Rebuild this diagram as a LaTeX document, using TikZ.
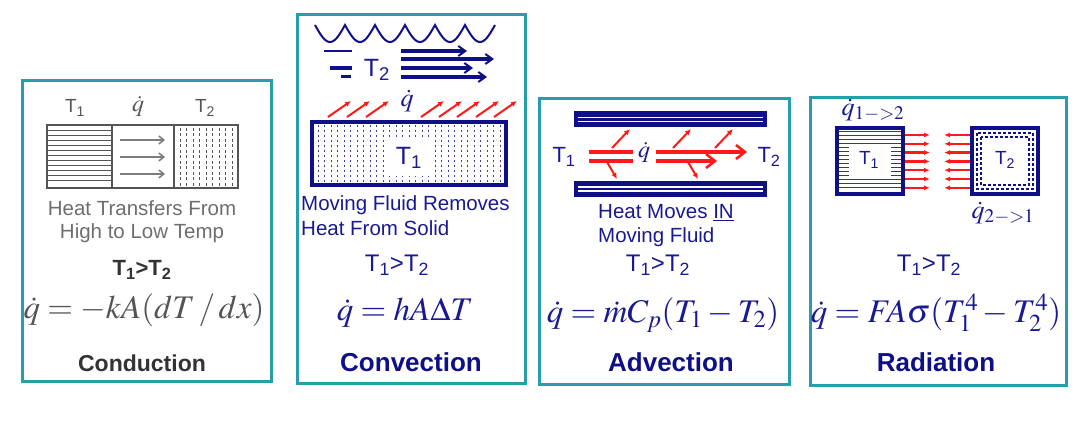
\documentclass[tikz,border=0pt]{standalone}
\usepackage{mathptmx}
\usepackage[no-math]{fontspec}
\setmainfont{Liberation Sans}
\usetikzlibrary{arrows.meta}

\definecolor{frameteal}{RGB}{40,158,170}
\definecolor{navy}{RGB}{15,15,135}
\definecolor{navytxt}{RGB}{25,25,145}
\definecolor{hotred}{RGB}{255,25,25}
\definecolor{condgray}{RGB}{85,85,85}
\definecolor{arrowgray}{RGB}{125,125,125}
\newcommand{\fsz}[1]{\fontsize{#1}{#1}\selectfont}

\begin{document}
\begin{tikzpicture}[x=1pt, y=-1pt,
    panel/.style={draw=frameteal, line width=3pt},
    txt/.style={inner sep=0pt, font=\fsz{20.5}},
    cmp/.style={inner sep=0pt, font=\fsz{24}},
    eqn/.style={inner sep=0pt, font=\fsz{33}},
    ttl/.style={inner sep=0pt, font=\bfseries\fsz{26}},
    redarr/.style={hotred, line width=2pt, -{Latex[length=6pt,width=5.5pt]}},
    bigred/.style={hotred, line width=4pt, -{Straight Barb[length=9pt,width=14pt,line width=2.5pt]}},
    bluearr/.style={navy, line width=3.2pt, -{Straight Barb[length=7pt,width=10pt,line width=2pt]}},
    radarr/.style={hotred, line width=2.5pt, -{Latex[length=6pt,width=5pt]}}]

  \useasboundingbox (0,0) rectangle (1080,441);

  % Conduction
  \draw[panel] (22,81) rectangle (271,381);
  \node[text=condgray, font=\fsz{19}] (condT1) at (75,108) {T\textsubscript{1}};
  \node[text=condgray, font=\fsz{24}] (condQ) at (138,106) {$\dot{q}$};
  \node[text=condgray, font=\fsz{19}] (condT2) at (205,108) {T\textsubscript{2}};
  \foreach \y in {130,135,...,184}
    \draw[condgray, line width=0.9pt] (47,\y) -- (112,\y);
  \foreach \x in {180,186.5,...,235}
    \draw[condgray, line width=1pt, dash pattern=on 3pt off 2.5pt] (\x,128) -- (\x,186);
  \foreach \y in {140,157,174}
    \draw[arrowgray, line width=1.5pt, -{Straight Barb[length=5pt,width=8pt]}] (120,\y) -- (165,\y);
  \draw[condgray, line width=2.5pt] (47,125) rectangle (238,188);
  \draw[condgray, line width=2.5pt] (112,125) -- (112,188);
  \draw[condgray, line width=2.5pt] (174,125) -- (174,188);
  \node[txt, text=condgray!85] (condNote1) at (142,208) {Heat Transfers From};
  \node[txt, text=condgray!85] (condNote2) at (142,233) {High to Low Temp};
  \node[inner sep=0pt, font=\bfseries\fsz{22}, text=condgray!120] (condCmp) at (142,270) {T\textsubscript{1}>T\textsubscript{2}};
  \node[eqn, text=condgray] (condEq) at (144,310) {$\dot{q} = -kA(dT\,/\,dx)$};
  \node[inner sep=0pt, font=\bfseries\fsz{23}, text=condgray!120] (condName) at (142,363) {Conduction};

  % Convection
  \draw[panel] (297,15) rectangle (525,383);
  \draw[navy, line width=2pt] plot[domain=315:495, samples=181] (\x, {25+17*abs(sin(6*(\x-315)))});
  \draw[navy, line width=2.7pt] (324,51) -- (352,51);
  \draw[navy, line width=4pt] (330,68) -- (352,68);
  \draw[navy, line width=3pt] (341,77) -- (351,77);
  \node[text=navytxt, font=\fsz{25}, inner sep=0pt] (convT2) at (377,70) {T\textsubscript{2}};
  \draw[bluearr] (401,51) -- (467,51);
  \draw[bluearr] (401,59) -- (494,59);
  \draw[bluearr] (401,68) -- (473,68);
  \draw[bluearr] (401,77) -- (487,77);
  \node[text=navytxt, font=\fsz{26}, inner sep=0pt] (convQ) at (407,101) {$\dot{q}$};
  \foreach \x in {328,347,366,421,439,457,476,494}
    \draw[redarr] (\x,117) -- ++(23,-16);
  \foreach \x in {318,324.5,...,502}
    \draw[navy!80, line width=1pt, dash pattern=on 2.5pt off 2.5pt] (\x,125) -- (\x,183);
  \fill[white] (384,137) rectangle (434,176);
  \draw[navy, line width=4.5pt] (312,122) rectangle (506,185);
  \node[text=navytxt, font=\fsz{25}, inner sep=0pt] (convT1) at (409,158) {T\textsubscript{1}};
  \node[txt, text=navytxt, anchor=west] (convNote1) at (301,205) {Moving Fluid Removes};
  \node[txt, text=navytxt, anchor=west] (convNote2) at (301,228) {Heat From Solid};
  \node[cmp, text=navytxt] (convCmp) at (397,265) {T\textsubscript{1}>T\textsubscript{2}};
  \node[eqn, text=navytxt] (convEq) at (405,313) {$\dot{q} = hA\Delta T$};
  \node[ttl, text=navy] (convName) at (411,362) {Convection};

  % Advection
  \draw[panel] (539,99) rectangle (789,384);
  \fill[navy] (574,111) rectangle (767,127);
  \draw[white, line width=1.3pt] (578,117.5) -- (763,117.5) (578,121.5) -- (763,121.5);
  \fill[navy] (574,181) rectangle (767,197);
  \draw[white, line width=1.3pt] (578,187) -- (763,187) (578,191) -- (763,191);
  \node[text=navytxt, font=\fsz{22}, inner sep=0pt] (advT1) at (564,157) {T\textsubscript{1}};
  \node[text=navytxt, font=\fsz{22}, inner sep=0pt] (advT2) at (769,157) {T\textsubscript{2}};
  \draw[hotred, line width=4pt] (589,152) -- (633,152) (589,161) -- (633,161);
  \draw[bigred] (656,152) -- (747,152);
  \draw[bigred] (656,161) -- (717,161);
  \draw[redarr] (612,148) -- (630,129);
  \draw[redarr] (673,148) -- (691,129);
  \draw[redarr] (715,148) -- (733,129);
  \draw[redarr] (607,162) -- (617,179);
  \draw[redarr] (688,162) -- (698,179);
  \node[text=navytxt, font=\fsz{24}, inner sep=0pt] (advQ) at (644,152) {$\dot{q}$};
  \node[txt, text=navytxt, anchor=west] (advNote1) at (598,213) {Heat Moves \underline{IN}};
  \node[txt, text=navytxt, anchor=west] (advNote2) at (598,237) {Moving Fluid};
  \node[cmp, text=navytxt] (advCmp) at (658,265) {T\textsubscript{1}>T\textsubscript{2}};
  \node[eqn, text=navytxt] (advEq) at (663,315) {$\dot{q} = \dot{m}C_p(T_1 - T_2)$};
  \node[ttl, text=navy] (advName) at (671,362) {Advection};

  % Radiation
  \draw[panel] (810,98) rectangle (1066,385);
  \node[text=navytxt, font=\fsz{26}, inner sep=0pt] (radQa) at (873,110) {$\dot{q}_{1->2}$};
  \foreach \y in {132,136,...,191}
    \draw[navy!85, line width=1pt] (837,\y) -- (903,\y);
  \fill[white] (849,145) rectangle (891,177);
  \draw[navy, line width=4.5pt] (837,128) rectangle (903,194);
  \node[text=navytxt, font=\fsz{19}, inner sep=0pt] (radT1) at (869,160) {T\textsubscript{1}};
  \foreach \i in {0,...,6} {
    \draw[radarr] (905,{135+8.8*\i}) -- (930,{135+8.8*\i});
    \draw[radarr] (970,{135+8.8*\i}) -- (944,{135+8.8*\i});
  }
  \draw[navy, line width=1.3pt, dash pattern=on 3pt off 2pt] (977,133) rectangle (1033,189);
  \draw[navy, line width=1.3pt, dash pattern=on 3pt off 2pt] (981,137) rectangle (1029,185);
  \draw[navy, line width=4.5pt] (972,128) rectangle (1038,194);
  \node[text=navytxt, font=\fsz{19}, inner sep=0pt] (radT2) at (1005,160) {T\textsubscript{2}};
  \node[text=navytxt, font=\fsz{26}, inner sep=0pt] (radQb) at (1003,213) {$\dot{q}_{2->1}$};
  \node[cmp, text=navytxt] (radCmp) at (929,265) {T\textsubscript{1}>T\textsubscript{2}};
  \node[eqn, text=navytxt] (radEq) at (936,313) {$\dot{q} = FA\sigma(T_1^4 - T_2^4)$};
  \node[ttl, text=navy] (radName) at (936,362) {Radiation};
\end{tikzpicture}
\end{document}
